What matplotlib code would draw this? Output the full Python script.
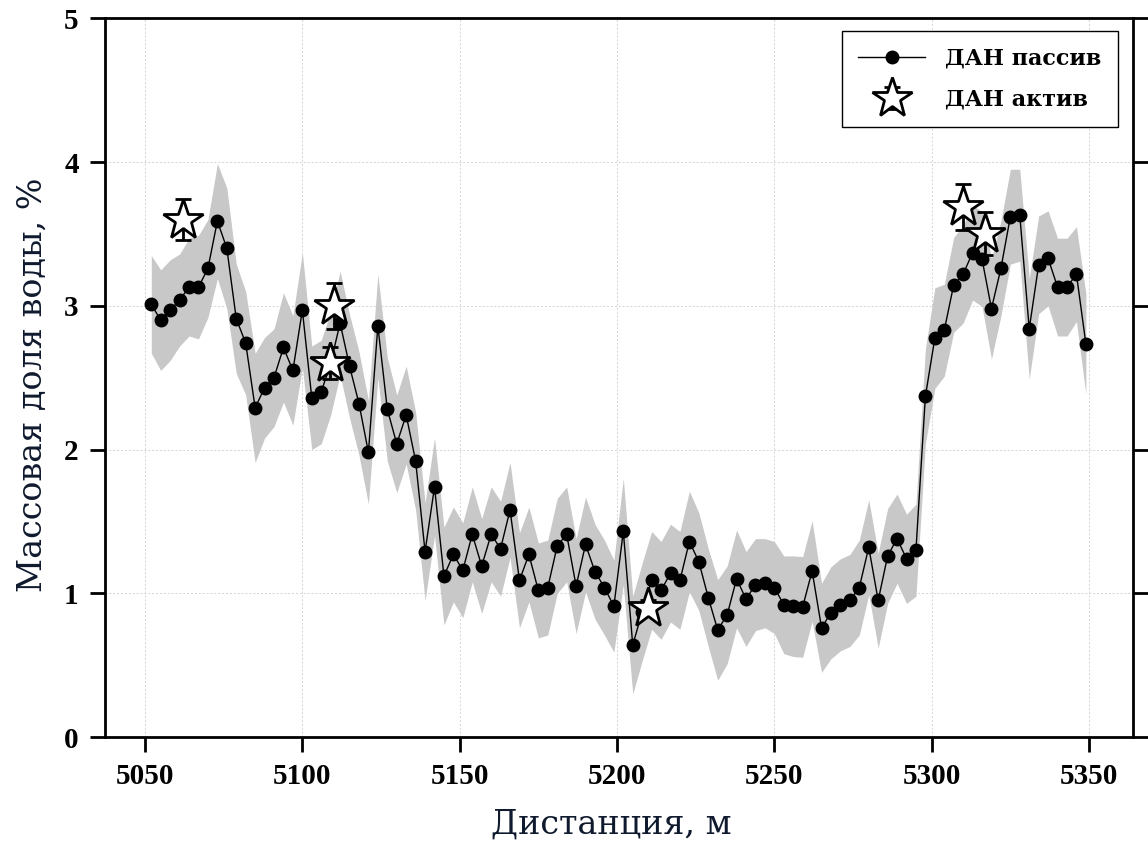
import numpy as np
import matplotlib
matplotlib.use("Agg")
import matplotlib.pyplot as plt

# ---- data ----
distance = np.arange(5052, 5350, 3)  # measurement positions, m
passive = [3.01, 2.90, 2.97, 3.04, 3.13, 3.13, 3.26, 3.59, 3.40, 2.91,
           2.74, 2.29, 2.43, 2.50, 2.71, 2.55, 2.97, 2.36, 2.40, 2.60,
           2.88, 2.58, 2.32, 1.98, 2.86, 2.28, 2.04, 2.24, 1.92, 1.29,
           1.74, 1.12, 1.27, 1.16, 1.41, 1.19, 1.41, 1.31, 1.58, 1.09,
           1.27, 1.02, 1.04, 1.33, 1.41, 1.05, 1.34, 1.15, 1.04, 0.91,
           1.43, 0.64, 0.87, 1.09, 1.02, 1.14, 1.09, 1.36, 1.22, 0.97,
           0.745, 0.85, 1.10, 0.96, 1.06, 1.07, 1.04, 0.92, 0.91, 0.905,
           1.155, 0.76, 0.865, 0.92, 0.95, 1.04, 1.32, 0.95, 1.26, 1.38,
           1.24, 1.30, 2.37, 2.775, 2.83, 3.146, 3.22, 3.37, 3.325, 2.98,
           3.26, 3.62, 3.63, 2.84, 3.285, 3.33, 3.13, 3.13, 3.22, 2.735]
passive_err = [0.34, 0.35, 0.35, 0.32, 0.34, 0.36, 0.34, 0.40, 0.42, 0.38,
               0.36, 0.38, 0.35, 0.34, 0.38, 0.38, 0.40, 0.36, 0.36, 0.36,
               0.36, 0.36, 0.36, 0.36, 0.36, 0.36, 0.34, 0.34, 0.34, 0.34,
               0.34, 0.34, 0.33, 0.33, 0.33, 0.33, 0.33, 0.33, 0.33, 0.33,
               0.33, 0.33, 0.33, 0.33, 0.33, 0.33, 0.33, 0.33, 0.33, 0.32,
               0.37, 0.34, 0.34, 0.34, 0.34, 0.34, 0.34, 0.35, 0.34, 0.34,
               0.35, 0.34, 0.34, 0.33, 0.32, 0.31, 0.32, 0.34, 0.35, 0.35,
               0.35, 0.31, 0.32, 0.32, 0.32, 0.33, 0.33, 0.33, 0.33, 0.31,
               0.31, 0.32, 0.33, 0.35, 0.32, 0.33, 0.34, 0.33, 0.33, 0.35,
               0.33, 0.33, 0.32, 0.35, 0.34, 0.33, 0.34, 0.34, 0.33, 0.35]
active_x = [5062, 5108.7, 5110, 5209.8, 5310, 5317]
active_y = [3.60, 2.60, 3.00, 0.90, 3.69, 3.50]
active_err = [0.14, 0.11, 0.16, 0.05, 0.16, 0.15]

xlabel = "Дистанция, м"
ylabel = "Массовая доля воды, %"
legend_labels = ["ДАН пассив", "ДАН актив"]

# ---- figure ----
fig = plt.figure(figsize=(11.48, 8.43), dpi=100)
ax = fig.add_axes([0.0915, 0.1257, 0.8955, 0.8526])

p = np.array(passive)
e = np.array(passive_err)
ax.fill_between(distance, p - e, p + e, color="#c8c8c8", linewidth=0, zorder=1)
line, = ax.plot(distance, p, color="black", linewidth=1.0, marker="o",
                markersize=9, markerfacecolor="black", markeredgecolor="black",
                zorder=3, label=legend_labels[0])
eb = ax.errorbar(active_x, active_y, yerr=active_err, fmt="*", markersize=30,
                 markerfacecolor="white", markeredgecolor="black",
                 markeredgewidth=2, ecolor="black", elinewidth=2, capsize=6,
                 capthick=2, zorder=4, label=legend_labels[1])

ax.set_xlim(5037.3, 5364)
ax.set_ylim(0, 5)
ax.set_xticks([5050, 5100, 5150, 5200, 5250, 5300, 5350])
ax.set_yticks([0, 1, 2, 3, 4, 5])
ax.grid(True, linestyle=(0, (2, 2)), color="#d4d4d4", linewidth=0.7, zorder=0)
ax.set_axisbelow(True)

for s in ax.spines.values():
    s.set_linewidth(2)
ax.tick_params(axis="both", direction="out", length=11, width=2)
ax.tick_params(axis="y", right=True)
for lab in ax.get_xticklabels() + ax.get_yticklabels():
    lab.set_fontfamily("Liberation Serif")
    lab.set_fontweight("bold")
    lab.set_fontsize(21)
ax.tick_params(axis="x", pad=8)
ax.tick_params(axis="y", pad=8)

ax.set_xlabel(xlabel, fontfamily="DejaVu Serif", fontsize=24, color="#101a2e")
ax.set_ylabel(ylabel, fontfamily="DejaVu Serif", fontsize=24, color="#101a2e")
ax.xaxis.set_label_coords(0.492, -0.100)
ax.yaxis.set_label_coords(-0.055, 0.49)

leg = ax.legend(handles=[line, eb], labels=legend_labels, loc="upper right",
                bbox_to_anchor=(0.9854, 0.9823), borderaxespad=0,
                prop={"family": "DejaVu Serif", "weight": "bold", "size": 16},
                fancybox=False, edgecolor="black", framealpha=1,
                handlelength=3.0, handletextpad=0.9, borderpad=0.75,
                labelspacing=0.85)
leg.get_frame().set_linewidth(1.0)

fig.savefig("out.png", dpi=100)
